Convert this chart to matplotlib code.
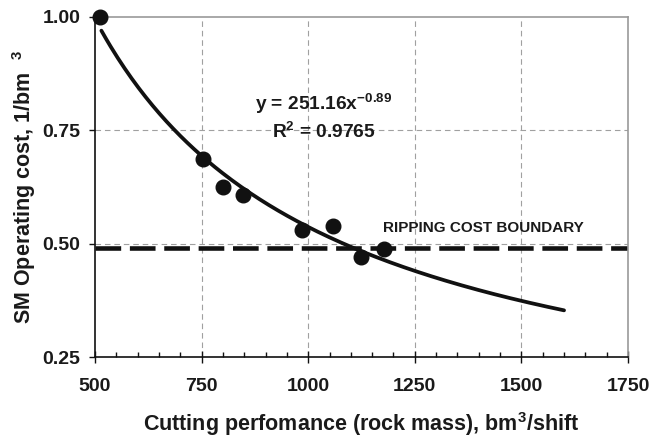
import numpy as np
import matplotlib
matplotlib.use("Agg")
import matplotlib.pyplot as plt
from matplotlib.ticker import MultipleLocator, FormatStrFormatter

plt.rcParams['font.family'] = ['Liberation Sans', 'DejaVu Sans']
plt.rcParams['font.weight'] = 'bold'
plt.rcParams['mathtext.fontset'] = 'custom'
plt.rcParams['mathtext.rm'] = 'Liberation Sans:bold'
plt.rcParams['mathtext.bf'] = 'Liberation Sans:bold'
plt.rcParams['mathtext.it'] = 'Liberation Sans:bold'
plt.rcParams['mathtext.default'] = 'bf'

# Data
performance = [512, 754, 800, 848, 985, 1058, 1124, 1178]
op_cost = [1.00, 0.686, 0.625, 0.608, 0.530, 0.539, 0.470, 0.488]

# Power trendline shown on the chart
coef_a = 251.16
coef_b = -0.89
r_squared = 0.9765
trend_start, trend_end = 515, 1600

boundary_cost = 0.49

x_ticks = [500, 750, 1000, 1250, 1500, 1750]
y_ticks = [0.25, 0.50, 0.75, 1.00]

TXT = '#1a1a1a'

fig = plt.figure(figsize=(6.49, 4.40), dpi=100)
ax = fig.add_axes([95/649, 1-357.3/440, (628-95)/649, (357.3-16.7)/440])

ax.set_xlim(500, 1750)
ax.set_ylim(0.25, 1.00)

# grid
for xv in x_ticks[1:-1]:
    ax.axvline(xv, color='#a0a0a0', lw=0.8, ls=(0, (5, 3.5)), zorder=1)
for yv in y_ticks[1:-1]:
    ax.axhline(yv, color='#a0a0a0', lw=0.8, ls=(0, (5, 3.5)), zorder=1)

# trend line
xt = np.linspace(trend_start, trend_end, 200)
ax.plot(xt, coef_a * xt ** coef_b, color='#111111', lw=2.7, zorder=3,
        solid_capstyle='round')

# boundary
ax.axhline(boundary_cost, color='#111111', lw=3.3, ls=(0, (5.6, 1.9)), zorder=2)

# points
ax.plot(performance, op_cost, 'o', color='#111111', ms=10.5, zorder=4,
        clip_on=False)

ax.text(1037, 0.794, r"y = 251.16x$^{-0.89}$", ha='center', va='baseline',
        fontsize=13.8, color=TXT, fontweight='bold')
ax.text(1037, 0.7326, r"R$^{2}$ = 0.9765", ha='center', va='baseline',
        fontsize=13.8, color=TXT, fontweight='bold')
ax.text(1175, 0.526, "RIPPING COST BOUNDARY", ha='left', va='baseline',
        fontsize=11, color=TXT, fontweight='bold')

ax.xaxis.set_major_locator(MultipleLocator(250))
ax.xaxis.set_minor_locator(MultipleLocator(50))
ax.yaxis.set_major_locator(MultipleLocator(0.25))
ax.yaxis.set_major_formatter(FormatStrFormatter('%.2f'))
ax.tick_params(axis='x', which='major', direction='inout', length=8, width=1,
               labelsize=14, pad=11, colors='#111111', labelcolor=TXT)
ax.tick_params(axis='x', which='minor', direction='in', length=3.5, width=1,
               colors='#111111')
ax.tick_params(axis='y', which='major', direction='out', length=4.5, width=1,
               labelsize=14, pad=6, colors='#111111', labelcolor=TXT)
for lab in ax.get_xticklabels() + ax.get_yticklabels():
    lab.set_fontweight('bold')

for s in ['top', 'right']:
    ax.spines[s].set_color('#999999')
    ax.spines[s].set_linewidth(1.2)
for s in ['left', 'bottom']:
    ax.spines[s].set_color('#111111')
    ax.spines[s].set_linewidth(1.2)

ax.set_xlabel(r"Cutting perfomance (rock mass), bm$^{3}$/shift", fontsize=15.5,
              fontweight='bold', color=TXT, labelpad=11)
ax.set_ylabel(r"SM Operating cost, 1/bm  $^{3}$", fontsize=15.5,
              fontweight='bold', color=TXT, labelpad=3)

fig.savefig("out.png", dpi=100)
